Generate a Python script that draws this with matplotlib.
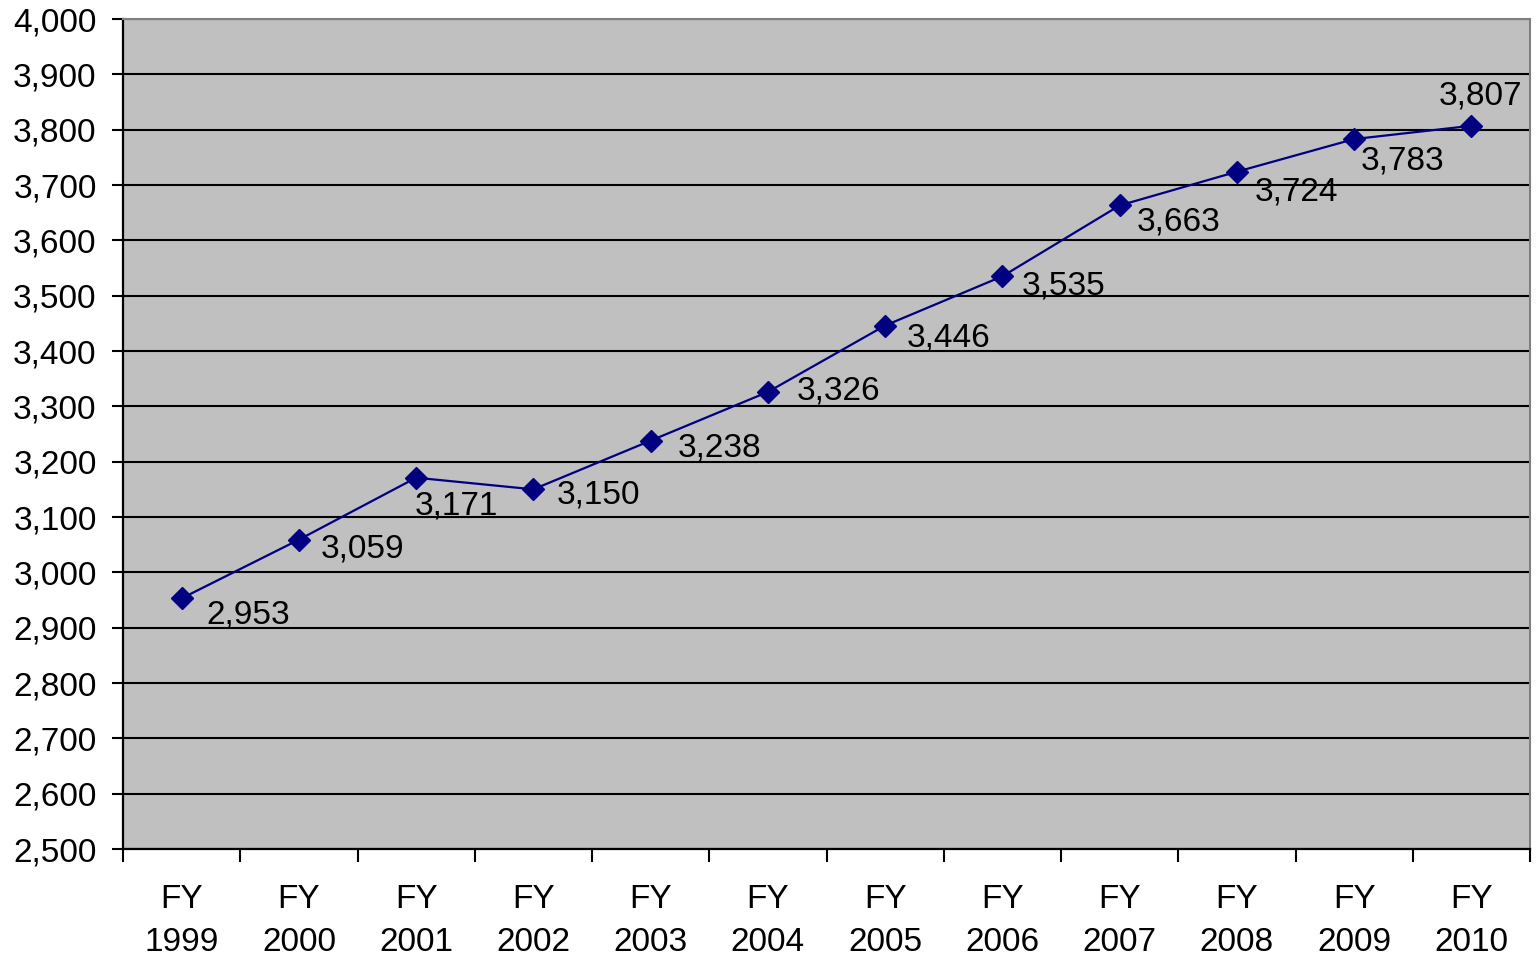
import matplotlib

matplotlib.use("Agg")

import matplotlib.pyplot as plt
from matplotlib.ticker import FixedLocator, FuncFormatter

years = ["1999", "2000", "2001", "2002", "2003", "2004",
         "2005", "2006", "2007", "2008", "2009", "2010"]
values = [2953, 3059, 3171, 3150, 3238, 3326, 3446, 3535, 3663, 3724, 3783, 3807]
y_ticks = list(range(2500, 4001, 100))

# label offsets in pixels (left edge dx, centre dy downward), as placed in the source
label_offsets = [(25, 17), (22, 9), (-1, 28), (23, 6), (27, 7), (29, -1),
                 (22, 12), (19, 10), (17, 17), (18, 20), (7, 22), (9, -30)]

plt.rcParams["font.family"] = ["Liberation Sans", "DejaVu Sans"]

fig = plt.figure(figsize=(15.37, 9.58), dpi=100)
ax = fig.add_axes([123 / 1537, 109 / 958, (1530 - 123) / 1537, (849 - 19) / 958])
ax.set_facecolor("#C0C0C0")

x = list(range(len(years)))
ax.plot(x, values, color="#000080", linewidth=1.6, marker="D", markersize=11,
        markerfacecolor="#000080", markeredgecolor="#000080", zorder=3)

for i, (xi, v) in enumerate(zip(x, values)):
    dx, dy = label_offsets[i]
    ha = "center" if i == len(values) - 1 else "left"
    ax.annotate(f"{v:,}", (xi, v), xytext=(dx, -dy), textcoords="offset pixels",
                ha=ha, va="center", fontsize=24, color="black", zorder=4)

ax.set_xlim(-0.5, len(years) - 0.5)
ax.set_ylim(2500, 4000)
ax.yaxis.set_major_locator(FixedLocator(y_ticks))
ax.yaxis.set_major_formatter(FuncFormatter(lambda v, p: f"{int(v):,}"))
ax.grid(True, axis="y", color="black", linewidth=1.5, zorder=1)
ax.set_axisbelow(True)

ax.set_xticks([i - 0.5 for i in range(len(years) + 1)])
ax.set_xticklabels([])
ax.set_xticks(x, minor=True)
ax.set_xticklabels([f"FY\n{y}" for y in years], minor=True, fontsize=24,
                   linespacing=1.5)
ax.tick_params(axis="x", which="minor", length=0, pad=25)
ax.tick_params(axis="x", which="major", length=9, width=1.5, direction="out")
ax.tick_params(axis="y", length=8, width=1.5, direction="out", labelsize=24, pad=11)

for side in ("left", "bottom"):
    ax.spines[side].set_color("black")
    ax.spines[side].set_linewidth(1.6)
for side in ("top", "right"):
    ax.spines[side].set_color("#808080")
    ax.spines[side].set_linewidth(1.5)

fig.savefig("out.png", dpi=100)
